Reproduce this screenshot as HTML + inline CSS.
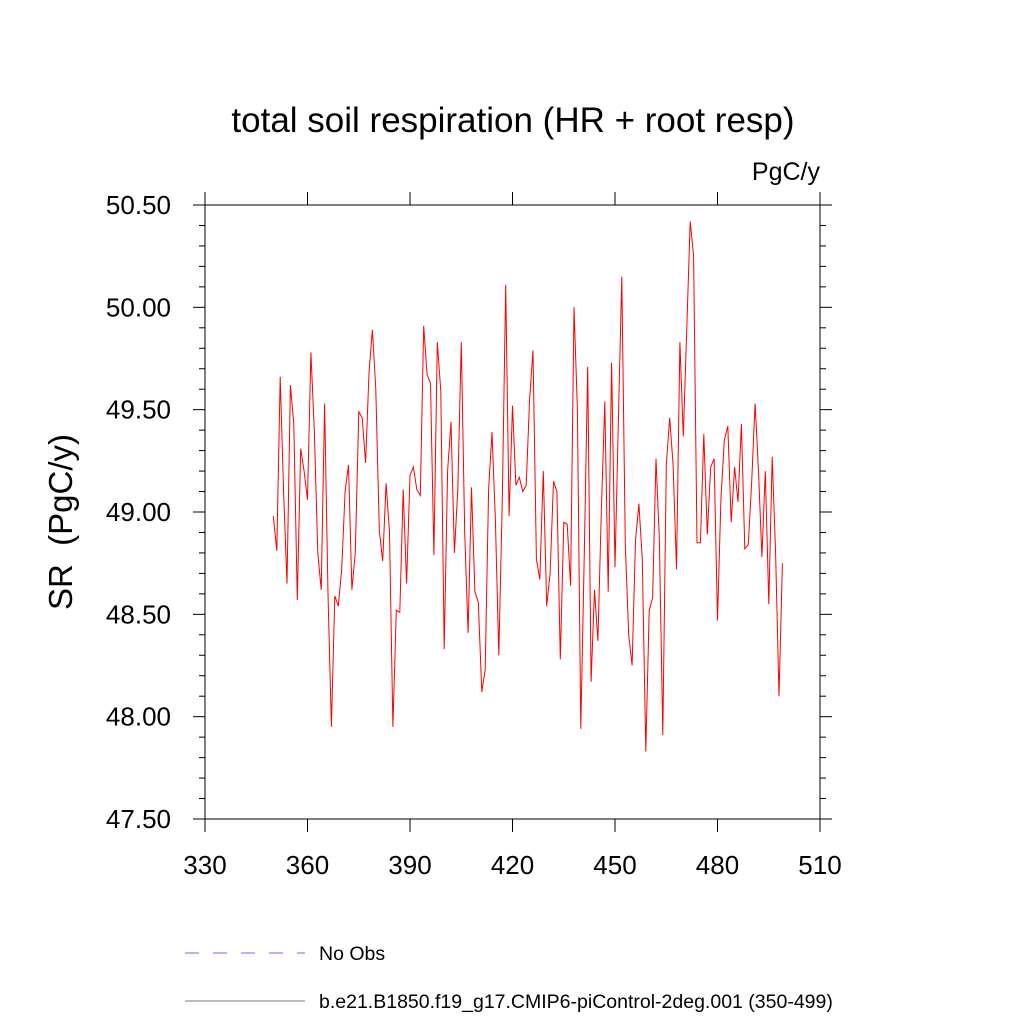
<!DOCTYPE html>
<html><head><meta charset="utf-8"><style>
body{margin:0;background:#fff;}
svg text{font-family:"Liberation Sans",sans-serif;fill:#000;}
</style></head><body>
<svg id="chart" width="1024" height="1024" viewBox="0 0 1024 1024" xmlns="http://www.w3.org/2000/svg">
<text x="513" y="132" font-size="35" text-anchor="middle">total soil respiration (HR + root resp)</text>
<text x="820" y="180" font-size="25" text-anchor="end">PgC/y</text>
<text transform="translate(72,522) rotate(-90)" font-size="33" text-anchor="middle">SR&#160; (PgC/y)</text>
<rect x="205" y="205" width="615" height="614" fill="none" stroke="#000" stroke-width="1"/>
<g id="axes"></g>
<polyline id="series" fill="none" stroke="#ff0000" stroke-width="1"/>
<line x1="185" y1="953" x2="305" y2="953" stroke="#6666ff" stroke-width="1" stroke-dasharray="14,14"/>
<text x="319" y="960" font-size="19.5">No Obs</text>
<line x1="185" y1="1001" x2="305" y2="1001" stroke="#777" stroke-width="1"/>
<text x="319" y="1008" font-size="19.5">b.e21.B1850.f19_g17.CMIP6-piControl-2deg.001 (350-499)</text>
</svg>
<script>
const years = Array.from({length:150},(_,i)=>350+i);
const values = [48.98,48.81,49.66,49.1,48.65,49.62,49.43,48.57,49.31,49.2,
49.06,49.78,49.4,48.8,48.62,49.53,48.6,47.95,48.59,48.54,
48.72,49.1,49.23,48.62,48.8,49.49,49.46,49.24,49.68,49.89,
49.6,48.91,48.76,49.14,48.9,47.95,48.52,48.51,49.11,48.65,
49.18,49.22,49.11,49.08,49.91,49.67,49.63,48.79,49.83,49.59,
48.33,49.2,49.44,48.8,49.11,49.83,48.9,48.41,49.12,48.61,
48.56,48.12,48.23,49.11,49.39,48.96,48.3,49.06,50.11,48.98,
49.52,49.13,49.17,49.1,49.13,49.55,49.79,48.77,48.67,49.2,
48.54,48.7,49.15,49.1,48.28,48.95,48.94,48.64,50.0,49.5,
47.94,48.8,49.71,48.17,48.62,48.37,49.0,49.54,48.61,49.73,
48.73,49.45,50.15,48.84,48.4,48.25,48.86,49.04,48.77,47.83,
48.52,48.58,49.26,48.86,47.91,49.23,49.46,49.23,48.72,49.83,
49.37,49.9,50.42,50.25,48.85,48.85,49.38,48.89,49.22,49.26,
48.47,49.06,49.35,49.42,48.95,49.22,49.05,49.43,48.82,48.84,
49.15,49.53,49.2,48.78,49.2,48.55,49.27,48.8,48.1,48.75];
const xTicks = [330,360,390,420,450,480,510];
const yTicks = [47.5,48.0,48.5,49.0,49.5,50.0,50.5];
const X0=205,X1=820,Y0=819,Y1=205;
const xs=v=>X0+(v-330)/(510-330)*(X1-X0);
const ys=v=>Y0-(v-47.5)/(50.5-47.5)*(Y0-Y1);
const NS="http://www.w3.org/2000/svg";
const g=document.getElementById('axes');
function ln(x1,y1,x2,y2,name){const l=document.createElementNS(NS,'line');
l.setAttribute('x1',x1);l.setAttribute('y1',y1);l.setAttribute('x2',x2);l.setAttribute('y2',y2);
l.setAttribute('stroke','#000');l.setAttribute('stroke-width','1');


g.appendChild(l);}
function tx(x,y,s,anchor,name){const t=document.createElementNS(NS,'text');
t.setAttribute('x',x);t.setAttribute('y',y);t.setAttribute('font-size','26');t.setAttribute('text-anchor',anchor);t.textContent=s;


g.appendChild(t);}
xTicks.forEach(v=>{const x=xs(v);ln(x,Y0,x,Y0+13,'x-tick');ln(x,Y1,x,Y1-13,'x-tick-top');tx(x,Y0+55,String(v),'middle','x-tick-label');});
yTicks.forEach(v=>{const y=ys(v);ln(X0-12,y,X0,y,'y-tick');ln(X1,y,X1+12,y,'y-tick-right');tx(171,y+9,v.toFixed(2),'end','y-tick-label');});
for(let i=0;i<=30;i++){if(i%5){const y=ys(47.5+i*0.1);ln(X0-6,y,X0,y,'y-minor-tick');ln(X1,y,X1+6,y,'y-minor-tick-right');}}
document.getElementById('series').setAttribute('points',years.map((yr,i)=>xs(yr).toFixed(1)+','+ys(values[i]).toFixed(1)).join(' '));
</script>
</body></html>
